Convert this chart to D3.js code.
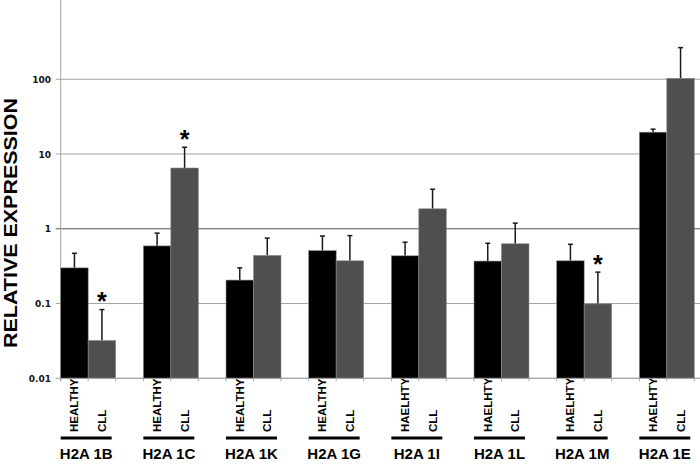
<!DOCTYPE html>
<html><head><meta charset="utf-8">
<script src="https://cdn.jsdelivr.net/npm/d3@7"></script>
<style>body{margin:0;background:#fff}svg{display:block}</style>
</head><body>
<svg id="c" width="700" height="470"></svg>
<script>
const groups = ["H2A 1B","H2A 1C","H2A 1K","H2A 1G","H2A 1I","H2A 1L","H2A 1M","H2A 1E"];
const healthyLabels = ["HEALTHY","HEALTHY","HEALTHY","HEALTHY","HAELHTY","HAELHTY","HAELHTY","HAELHTY"];
const cllLabel = "CLL";
const healthy = [0.30, 0.59, 0.206, 0.51, 0.435, 0.37, 0.373, 19.6];
const healthyErr = [0.17, 0.285, 0.094, 0.29, 0.225, 0.27, 0.247, 1.9];
const cll = [0.032, 6.5, 0.44, 0.373, 1.85, 0.63, 0.099, 103];
const cllErr = [0.051, 5.8, 0.31, 0.437, 1.53, 0.56, 0.164, 162];
const cllSignificant = [true, true, false, false, false, false, true, false];
const tickValues = [0.01, 0.1, 1, 10, 100];
const tickLabels = ["0.01", "0.1", "1", "10", "100"];
const series = ["HEALTHY", "CLL"];
const colors = {HEALTHY: "#000000", CLL: "#4f4f4f"};

const svg = d3.select("#c");
const y = d3.scaleLog().domain([0.01, 1000]).range([378.3, 4.5]);
const x0 = d3.scaleBand().domain(groups).range([60.7, 694.3]).paddingInner(0.335).paddingOuter(0);
const x1 = d3.scaleBand().domain(series).range([0, x0.bandwidth()]);
const axisX = 60.7, right = 700;

// gridlines
svg.append("g").selectAll("line").data(tickValues).join("line")
  .attr("x1", axisX - 5).attr("x2", right)
  .attr("y1", d => y(d)).attr("y2", d => y(d))
  .attr("stroke", d => d === 1 ? "#555" : "#a3a3a3").attr("stroke-width", 1);

// y axis line
svg.append("line").attr("x1", axisX).attr("x2", axisX).attr("y1", 0).attr("y2", y(0.01) + 3)
  .attr("stroke", "#a3a3a3");

// y tick labels
svg.append("g").selectAll("text").data(tickValues).join("text")
  .attr("x", 51).attr("y", d => y(d) + 3.5).attr("text-anchor", "end")
  .attr("font-family", "DejaVu Sans").attr("font-weight", "bold").attr("font-size", 9)
  .attr("fill", "#111").text((d, i) => tickLabels[i]);

// y title
svg.append("text").attr("transform", "translate(17,223) rotate(-90)")
  .attr("text-anchor", "middle").attr("font-family", "Liberation Sans").attr("font-weight", "bold")
  .attr("font-size", 18.5).attr("textLength", 250).attr("lengthAdjust", "spacingAndGlyphs")
  .attr("fill", "#000").text("RELATIVE EXPRESSION");

const rows = groups.map((g, i) => ({g, i, vals: [
  {s: "HEALTHY", v: healthy[i], e: healthyErr[i], sig: false, label: healthyLabels[i]},
  {s: "CLL", v: cll[i], e: cllErr[i], sig: cllSignificant[i], label: cllLabel}
]}));

const gg = svg.append("g").selectAll("g").data(rows).join("g")
  .attr("transform", d => `translate(${x0(d.g)},0)`);

// error bars (behind bars)
gg.selectAll("line.err").data(d => d.vals).join("line").attr("class", "err")
  .attr("x1", d => x1(d.s) + x1.bandwidth() / 2).attr("x2", d => x1(d.s) + x1.bandwidth() / 2)
  .attr("y1", d => y(d.v)).attr("y2", d => y(d.v + d.e))
  .attr("stroke", "#1a1a1a").attr("stroke-width", 1.5);
gg.selectAll("line.cap").data(d => d.vals).join("line").attr("class", "cap")
  .attr("x1", d => x1(d.s) + x1.bandwidth() / 2 - 2.5).attr("x2", d => x1(d.s) + x1.bandwidth() / 2 + 2.5)
  .attr("y1", d => y(d.v + d.e)).attr("y2", d => y(d.v + d.e))
  .attr("stroke", "#1a1a1a").attr("stroke-width", 1.5);

// bars
gg.selectAll("rect").data(d => d.vals).join("rect")
  .attr("x", d => x1(d.s)).attr("width", x1.bandwidth())
  .attr("y", d => y(d.v)).attr("height", d => y(0.01) - y(d.v))
  .attr("fill", d => colors[d.s]).attr("stroke", "#8a8a8a").attr("stroke-width", 0.6);

// x axis baseline + ticks
svg.append("line").attr("x1", axisX).attr("x2", right).attr("y1", y(0.01)).attr("y2", y(0.01))
  .attr("stroke", "#a3a3a3");
gg.selectAll("line.tk").data(d => [x1("HEALTHY"), x1("CLL"), x1("CLL") + x1.bandwidth()]).join("line")
  .attr("class", "tk").attr("x1", d => d).attr("x2", d => d)
  .attr("y1", y(0.01)).attr("y2", y(0.01) + 3).attr("stroke", "#a3a3a3");

// significance stars
gg.selectAll("text.star").data(d => d.vals.filter(v => v.sig)).join("text").attr("class", "star")
  .attr("x", d => x1(d.s) + x1.bandwidth() / 2).attr("y", d => y(d.v + d.e) + 0.5)
  .attr("text-anchor", "middle").attr("font-family", "Liberation Sans").attr("font-weight", "bold")
  .attr("font-size", 25).text("*");

// rotated series labels
gg.selectAll("text.sl").data(d => d.vals).join("text").attr("class", "sl")
  .attr("transform", d => `translate(${x1(d.s) + x1.bandwidth() / 2 + 4},432) rotate(-90)`)
  .attr("font-family", "Liberation Sans").attr("font-weight", "bold").attr("font-size", 11.5)
  .attr("fill", "#000").text(d => d.label);

// group underline + labels
gg.append("line").attr("x1", 0).attr("x2", x0.bandwidth() - 4).attr("y1", 438).attr("y2", 438)
  .attr("stroke", "#000").attr("stroke-width", 3);
gg.append("text").attr("x", x0.bandwidth() / 2 - 2).attr("y", 459).attr("text-anchor", "middle")
  .attr("font-family", "Liberation Sans").attr("font-weight", "bold").attr("font-size", 15)
  .attr("fill", "#000").text(d => d.g);
</script>
</body></html>
